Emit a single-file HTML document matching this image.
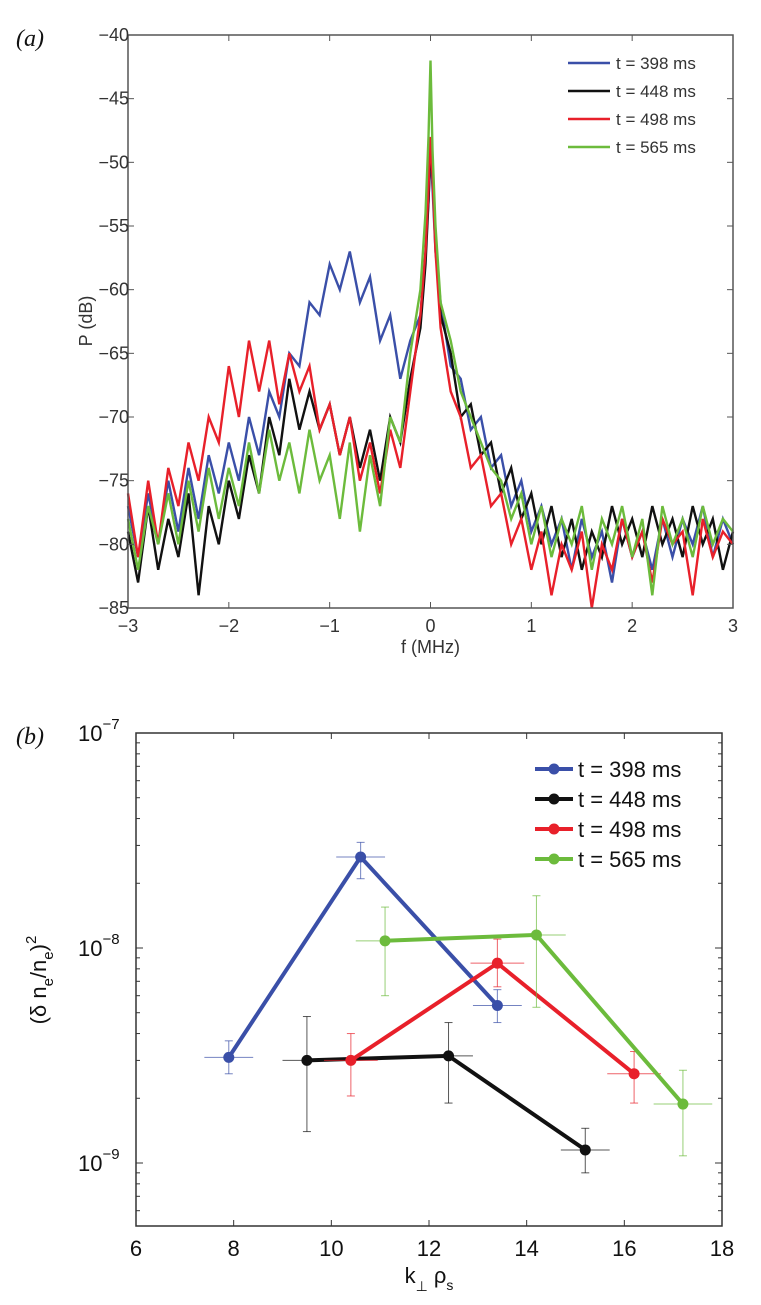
<!DOCTYPE html>
<html><head><meta charset="utf-8"><style>
body{margin:0;background:#fff;}
svg{display:block;font-family:"Liberation Sans",sans-serif;}
</style></head><body>
<svg id="chart" width="761" height="1305" viewBox="0 0 761 1305">
<text x="16" y="46" font-family="Liberation Serif,serif" font-style="italic" font-size="24" fill="#111">(a)</text>
<text x="16" y="744" font-family="Liberation Serif,serif" font-style="italic" font-size="24" fill="#111">(b)</text>
<g id="pa"></g>
<g id="pb"></g>
</svg>
<script>
// ---- Panel (a) data ----
const freqs = [-3.0,-2.9,-2.8,-2.7,-2.6,-2.5,-2.4,-2.3,-2.2,-2.1,-2.0,-1.9,-1.8,-1.7,-1.6,-1.5,-1.4,-1.3,-1.2,-1.1,-1.0,-0.9,-0.8,-0.7,-0.6,-0.5,-0.4,-0.3,-0.2,-0.1,
 -0.05,-0.02,0,0.02,0.05,
 0.1,0.2,0.3,0.4,0.5,0.6,0.7,0.8,0.9,1.0,1.1,1.2,1.3,1.4,1.5,1.6,1.7,1.8,1.9,2.0,2.1,2.2,2.3,2.4,2.5,2.6,2.7,2.8,2.9,3.0];
const p398 = [-77,-81,-76,-80,-75,-79,-74,-78,-73,-76,-72,-75,-70,-73,-68,-70,-65,-66,-61,-62,-58,-60,-57,-61,-59,-64,-62,-67,-64,-62,
 -57,-53,-49,-52,-57,
 -61,-66,-67,-71,-70,-74,-73,-77,-75,-79,-77,-80,-78,-82,-78,-81,-79,-83,-78,-81,-79,-82,-78,-81,-78,-80,-77,-81,-78,-80];
const p448 = [-79,-83,-77,-82,-78,-81,-76,-84,-77,-80,-75,-78,-73,-76,-70,-73,-67,-71,-68,-71,-69,-73,-70,-74,-71,-75,-70,-72,-67,-63,
 -58,-53,-49,-51,-56,
 -62,-65,-70,-69,-73,-72,-76,-74,-78,-76,-80,-77,-81,-78,-82,-79,-81,-77,-80,-78,-81,-77,-80,-78,-81,-77,-80,-78,-82,-79];
const p498 = [-76,-81,-75,-80,-74,-77,-72,-75,-70,-72,-66,-70,-64,-68,-64,-69,-65,-68,-66,-71,-69,-73,-70,-75,-72,-76,-71,-74,-68,-62,
 -57,-52,-48,-51,-57,
 -63,-68,-70,-74,-73,-77,-76,-80,-78,-82,-79,-84,-80,-82,-79,-85,-80,-82,-78,-81,-79,-83,-78,-80,-79,-84,-78,-81,-79,-80];
const p565 = [-78,-82,-77,-80,-76,-80,-75,-79,-74,-78,-74,-77,-72,-76,-71,-75,-72,-76,-71,-75,-73,-78,-72,-79,-73,-77,-70,-72,-65,-60,
 -54,-48,-42,-49,-55,
 -61,-64,-68,-70,-72,-74,-75,-78,-76,-80,-77,-81,-78,-80,-77,-82,-78,-80,-77,-81,-78,-84,-77,-80,-78,-81,-77,-80,-78,-79];
const aXTicks = [-3,-2,-1,0,1,2,3];
const aYTicks = [-40,-45,-50,-55,-60,-65,-70,-75,-80,-85];
const seriesLabels = ["t = 398 ms","t = 448 ms","t = 498 ms","t = 565 ms"];
const seriesColors = ["#3a4fa8","#111111","#e8202a","#6cbb3c"];

// ---- Panel (b) data ----
const kvals398 = [7.9,10.6,13.4];
const dn398 = [3.1e-9,2.65e-8,5.4e-9];
const hi398 = [3.7e-9,3.1e-8,6.4e-9];
const lo398 = [2.6e-9,2.1e-8,4.5e-9];
const kvals448 = [9.5,12.4,15.2];
const dn448 = [3.0e-9,3.15e-9,1.15e-9];
const hi448 = [4.8e-9,4.5e-9,1.45e-9];
const lo448 = [1.4e-9,1.9e-9,0.9e-9];
const kvals498 = [10.4,13.4,16.2];
const dn498 = [3.0e-9,8.5e-9,2.6e-9];
const hi498 = [4.0e-9,1.1e-8,3.3e-9];
const lo498 = [2.05e-9,6.6e-9,1.9e-9];
const kvals565 = [11.1,14.2,17.2];
const dn565 = [1.08e-8,1.15e-8,1.88e-9];
const hi565 = [1.55e-8,1.75e-8,2.7e-9];
const lo565 = [6.0e-9,5.3e-9,1.08e-9];
const kErr = [0.5,0.5,0.55,0.6];
const bXTicks = [6,8,10,12,14,16,18];
const bYDecades = [-7,-8,-9];

const NS="http://www.w3.org/2000/svg";
function mk(parent,tag,attrs,txt){const e=document.createElementNS(NS,tag);for(const k in attrs)e.setAttribute(k,attrs[k]);if(txt!==undefined)e.textContent=txt;parent.appendChild(e);return e;}

// Panel a
const pa=document.getElementById('pa');
const aL=128,aR=733,aT=35,aB=608;
const ax=f=>aL+(f+3)/6*(aR-aL);
const ay=v=>aT+(-40-v)/45*(aB-aT);
const aSeries=[p398,p448,p498,p565];
aSeries.forEach((s,i)=>{
  const d=s.map((v,j)=>(j?'L':'M')+ax(freqs[j]).toFixed(1)+','+Math.min(aB,Math.max(aT,ay(v))).toFixed(1)).join('');
  const p=mk(pa,'path',{d:d,fill:'none',stroke:seriesColors[i],'stroke-width':2.4,'stroke-linejoin':'miter'});
  
  
});
const fr=mk(pa,'rect',{x:aL,y:aT,width:aR-aL,height:aB-aT,fill:'none',stroke:'#555','stroke-width':1.5});


aXTicks.forEach(t=>{
  const x=ax(t);
  mk(pa,'line',{x1:x,x2:x,y1:aB,y2:aB-6,stroke:'#555'});
  mk(pa,'line',{x1:x,x2:x,y1:aT,y2:aT+6,stroke:'#555'});
  const tl=mk(pa,'text',{x:x,y:aB+24,'text-anchor':'middle','font-size':18,fill:'#333'},t<0?'\u2212'+(-t):String(t));
  
  
});
aYTicks.forEach(t=>{
  const y=ay(t);
  mk(pa,'line',{x1:aL,x2:aL+6,y1:y,y2:y,stroke:'#555'});
  mk(pa,'line',{x1:aR,x2:aR-6,y1:y,y2:y,stroke:'#555'});
  const tl=mk(pa,'text',{x:aL+1,y:y+6,'text-anchor':'end','font-size':18,fill:'#333'},'\u2212'+(-t));
  
  
});
const xt=mk(pa,'text',{x:ax(0),y:653,'text-anchor':'middle','font-size':18,fill:'#333'},'f (MHz)');


const yt=mk(pa,'text',{x:0,y:0,transform:'translate(92,321) rotate(-90)','text-anchor':'middle','font-size':18,fill:'#333'},'P (dB)');


seriesLabels.forEach((lab,i)=>{
  const y=63+i*28;
  const g=mk(pa,'g',{});
  
  
  mk(g,'line',{x1:568,x2:610,y1:y,y2:y,stroke:seriesColors[i],'stroke-width':2.5});
  mk(g,'text',{x:616,y:y+6,'font-size':17,fill:'#333'},lab);
});

// Panel b
const pb=document.getElementById('pb');
const bL=136,bR=722,bT=733,bB=1226;
const bx=k=>bL+(k-6)/12*(bR-bL);
const by=v=>948+(-8-Math.log10(v))*215;
const bfr=mk(pb,'rect',{x:bL,y:bT,width:bR-bL,height:bB-bT,fill:'none',stroke:'#333','stroke-width':1.5});


bXTicks.forEach(t=>{
  const x=bx(t);
  mk(pb,'line',{x1:x,x2:x,y1:bB,y2:bB-6,stroke:'#333'});
  mk(pb,'line',{x1:x,x2:x,y1:bT,y2:bT+6,stroke:'#333'});
  const tl=mk(pb,'text',{x:x,y:bB+30,'text-anchor':'middle','font-size':22,fill:'#111'},String(t));
  
  
});
bYDecades.forEach(d=>{
  const y=by(Math.pow(10,d));
  mk(pb,'line',{x1:bL,x2:bL+7,y1:y,y2:y,stroke:'#333'});
  mk(pb,'line',{x1:bR,x2:bR-7,y1:y,y2:y,stroke:'#333'});
  const tl=mk(pb,'text',{x:78,y:y+8,'font-size':22,fill:'#111'});
  
  
  tl.appendChild(document.createTextNode('10'));
  mk(tl,'tspan',{dy:-12,'font-size':15},'\u2212'+(-d));
});
[-9,-8,-10].forEach(d=>{for(let m=2;m<=9;m++){const v=m*Math.pow(10,d);const y=by(v);if(y>bT&&y<bB){
  mk(pb,'line',{x1:bL,x2:bL+4,y1:y,y2:y,stroke:'#333'});
  mk(pb,'line',{x1:bR,x2:bR-4,y1:y,y2:y,stroke:'#333'});}}});
const bxt=mk(pb,'text',{x:bx(12),y:1283,'text-anchor':'middle','font-size':22,fill:'#111'});


bxt.appendChild(document.createTextNode('k'));
mk(bxt,'tspan',{dy:8,'font-size':14},'\u22a5');
mk(bxt,'tspan',{dy:-8},' \u03c1');
mk(bxt,'tspan',{dy:7,'font-size':14},'s');
const byt=mk(pb,'text',{transform:'translate(46,980) rotate(-90)','text-anchor':'middle','font-size':22,fill:'#111'});


byt.appendChild(document.createTextNode('(\u03b4 n'));
mk(byt,'tspan',{dy:7,'font-size':15},'e');
mk(byt,'tspan',{dy:-7},'/n');
mk(byt,'tspan',{dy:7,'font-size':15},'e');
mk(byt,'tspan',{dy:-7},')');
mk(byt,'tspan',{dy:-10,'font-size':15},'2');
const bSeries=[[kvals398,dn398,hi398,lo398],[kvals448,dn448,hi448,lo448],[kvals498,dn498,hi498,lo498],[kvals565,dn565,hi565,lo565]];
bSeries.forEach((s,i)=>{
  const g=mk(pb,'g',{});
  
  
  const [ks,vs,hs,ls]=s;
  ks.forEach((k,j)=>{
    const x=bx(k),y=by(vs[j]);
    mk(g,'line',{x1:x,x2:x,y1:by(hs[j]),y2:by(ls[j]),stroke:seriesColors[i],'stroke-width':1,opacity:0.7});
    mk(g,'line',{x1:x-4,x2:x+4,y1:by(hs[j]),y2:by(hs[j]),stroke:seriesColors[i],'stroke-width':1,opacity:0.7});
    mk(g,'line',{x1:x-4,x2:x+4,y1:by(ls[j]),y2:by(ls[j]),stroke:seriesColors[i],'stroke-width':1,opacity:0.7});
    mk(g,'line',{x1:bx(k-kErr[i]),x2:bx(k+kErr[i]),y1:y,y2:y,stroke:seriesColors[i],'stroke-width':1,opacity:0.7});
  });
  const d=ks.map((k,j)=>(j?'L':'M')+bx(k).toFixed(1)+','+by(vs[j]).toFixed(1)).join('');
  mk(g,'path',{d:d,fill:'none',stroke:seriesColors[i],'stroke-width':4});
  ks.forEach((k,j)=>{
    const c=mk(g,'circle',{cx:bx(k),cy:by(vs[j]),r:5.5,fill:seriesColors[i]});
    
    
  });
});
seriesLabels.forEach((lab,i)=>{
  const y=769+i*30;
  const g=mk(pb,'g',{});
  
  
  mk(g,'line',{x1:535,x2:573,y1:y,y2:y,stroke:seriesColors[i],'stroke-width':4});
  mk(g,'circle',{cx:554,cy:y,r:5.5,fill:seriesColors[i]});
  mk(g,'text',{x:578,y:y+8,'font-size':22,fill:'#111'},lab);
});
</script>
</body></html>
